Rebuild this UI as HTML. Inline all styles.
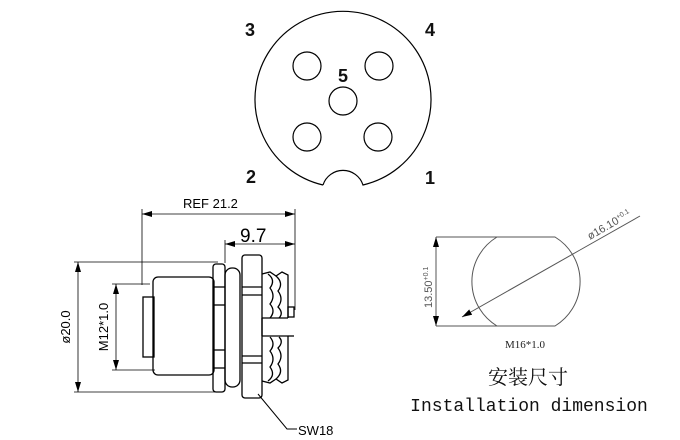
<!DOCTYPE html>
<html><head><meta charset="utf-8"><style>
html,body{margin:0;padding:0;background:#fff;}
svg{display:block;}
</style></head><body>
<svg width="680" height="440" viewBox="0 0 680 440" xmlns="http://www.w3.org/2000/svg">
<defs>
<marker id="a" viewBox="0 0 10 6" refX="10" refY="3" markerWidth="10" markerHeight="6" orient="auto-start-reverse" markerUnits="userSpaceOnUse"><path d="M0,0 L10,3 L0,6 z" fill="#000"/></marker>
</defs>
<g fill="none" stroke="#000" stroke-width="1.2">
<path d="M323 185 A88 88 0 1 1 363 185 A21 21 0 0 0 323 185"/>
<circle cx="307" cy="66" r="14"/>
<circle cx="379" cy="66" r="14"/>
<circle cx="343" cy="101" r="14"/>
<circle cx="307" cy="137" r="14"/>
<circle cx="378" cy="137" r="14"/>
</g>
<g font-family="Liberation Sans, sans-serif" font-size="18" font-weight="bold" text-anchor="middle" fill="#111">
<text x="250" y="36">3</text><text x="430" y="36">4</text>
<text x="343" y="82">5</text>
<text x="251" y="183">2</text><text x="430" y="184">1</text>
</g>
<g fill="none" stroke="#000" stroke-width="1.3">
<line x1="142" y1="214" x2="295" y2="214" stroke-width="0.8" marker-start="url(#a)" marker-end="url(#a)"/>
<line x1="142" y1="209" x2="142" y2="285" stroke-width="0.8"/>
<line x1="295" y1="209" x2="295" y2="310" stroke-width="0.8"/>
<line x1="225" y1="244" x2="295" y2="244" stroke-width="0.8" marker-start="url(#a)" marker-end="url(#a)"/>
<line x1="225" y1="240" x2="225" y2="263" stroke-width="0.8"/>
<line x1="78" y1="262" x2="78" y2="392" stroke-width="0.8" marker-start="url(#a)" marker-end="url(#a)"/>
<line x1="74" y1="262" x2="218" y2="262" stroke-width="0.8"/>
<line x1="74" y1="392" x2="215" y2="392" stroke-width="0.8"/>
<line x1="116" y1="284" x2="116" y2="370" stroke-width="0.8" marker-start="url(#a)" marker-end="url(#a)"/>
<line x1="112" y1="284" x2="150" y2="284" stroke-width="0.8"/>
<line x1="112" y1="370" x2="155" y2="370" stroke-width="0.8"/>
<rect x="143" y="297" width="11" height="60"/>
<rect x="153" y="277" width="61" height="98" rx="5"/>
<rect x="213" y="264" width="12" height="128" rx="3"/>
<line x1="213" y1="287" x2="225" y2="287"/><line x1="213" y1="305" x2="225" y2="305"/>
<line x1="213" y1="350" x2="225" y2="350"/><line x1="213" y1="368" x2="225" y2="368"/>
<rect x="225" y="268" width="15" height="119" rx="7"/>
<rect x="242" y="255" width="20" height="143" rx="3"/>
<line x1="242" y1="287" x2="262" y2="287"/><line x1="242" y1="295" x2="262" y2="295"/>
<line x1="242" y1="356" x2="262" y2="356"/><line x1="242" y1="363" x2="262" y2="363"/>
<!-- thread upper -->
<path d="M262 274 L270 272 L276 276 L282 272 L288 275 L288 318"/>
<path d="M268 274 Q276 280 270 288 Q276 296 270 304 Q276 311 270 318"/>
<path d="M276 276 Q284 283 278 291 Q284 299 278 307 Q284 313 279 318"/>
<line x1="262" y1="318" x2="288" y2="318"/>
<!-- thread lower -->
<path d="M262 381 L270 383 L276 379 L282 383 L288 380 L288 336"/>
<path d="M268 381 Q276 375 270 367 Q276 359 270 351 Q276 344 270 337"/>
<path d="M276 379 Q284 372 278 364 Q284 356 278 348 Q284 342 279 337"/>
<line x1="262" y1="336" x2="288" y2="336"/>
<line x1="262" y1="318" x2="262" y2="336"/>
<rect x="288" y="307" width="6" height="10"/>
<line x1="288" y1="336" x2="294" y2="336"/>
<polyline points="258,394 287,429 297,429" stroke-width="1"/>
</g>
<g font-family="Liberation Sans, sans-serif" fill="#000">
<text x="183" y="208" font-size="13">REF 21.2</text>
<text x="240" y="242" font-size="19">9.7</text>
<text transform="translate(70,327) rotate(-90)" font-size="13" text-anchor="middle">ø20.0</text>
<text transform="translate(108,327) rotate(-90)" font-size="13" text-anchor="middle">M12*1.0</text>
<text x="298" y="435" font-size="13">SW18</text>
</g>
<g fill="none" stroke="#555" stroke-width="1">
<path d="M497 237 L555 237 A52 52 0 0 1 555 326 L497 326 A52 52 0 0 1 497 237 Z"/>
<line x1="436" y1="237" x2="497" y2="237"/>
<line x1="436" y1="326" x2="497" y2="326"/>
<line x1="436" y1="237" x2="436" y2="326" marker-start="url(#a)" marker-end="url(#a)"/>
<line x1="462" y1="317" x2="580" y2="250" marker-start="url(#a)"/>
<line x1="580" y1="250" x2="640" y2="216" />
</g>
<g font-family="Liberation Sans, sans-serif" fill="#555" font-size="11">
<text transform="translate(432,308) rotate(-90)">13.50<tspan font-size="7" dy="-4">+0.1</tspan></text>
<text transform="translate(590,240) rotate(-30)">ø16.10<tspan font-size="7" dy="-4">+0.1</tspan></text>
<text x="505" y="348" font-family="Liberation Serif, serif" font-size="11" fill="#222">M16*1.0</text>
</g>
<text x="528" y="384" text-anchor="middle" font-family="Liberation Serif, 'Noto Serif CJK SC', serif" font-size="20" fill="#111">安装尺寸</text>
<text x="529" y="411" text-anchor="middle" font-family="Liberation Mono, monospace" font-size="18" fill="#111">Installation dimension</text>
</svg>
</body></html>
